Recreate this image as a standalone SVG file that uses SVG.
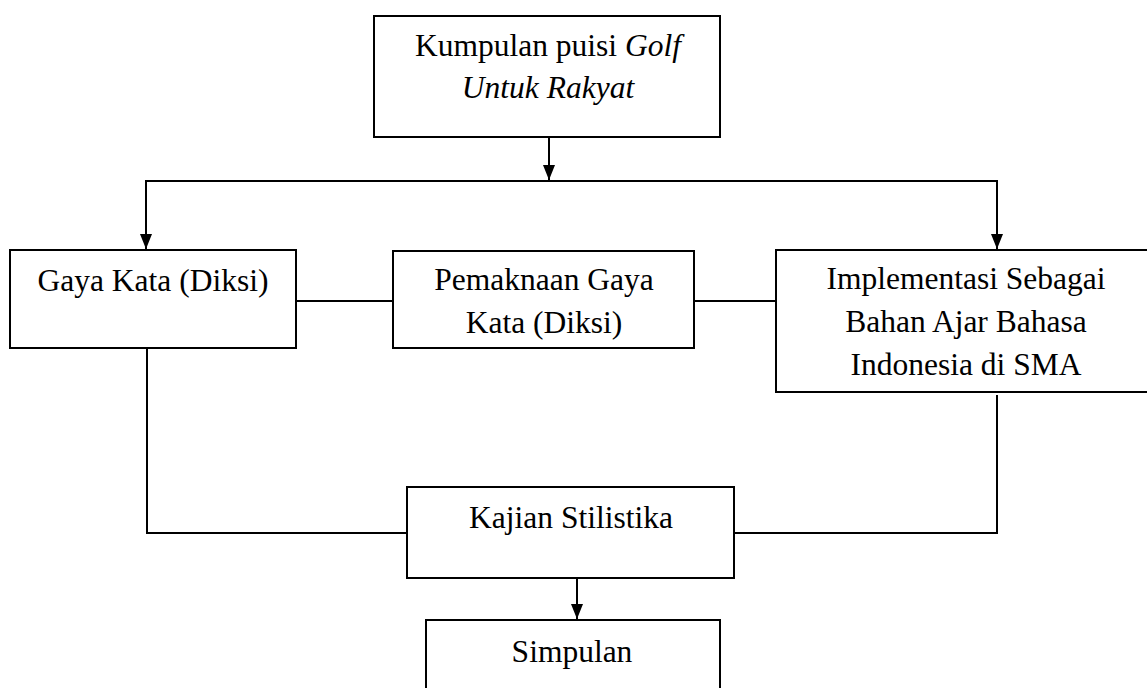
<svg xmlns="http://www.w3.org/2000/svg" width="1147" height="688" viewBox="0 0 1147 688">
<style>
.box{fill:#fff;stroke:#000;stroke-width:2}
.t{font-family:"Liberation Serif","Times New Roman",serif;font-size:31.5px;fill:#000;text-anchor:middle}
.ln{fill:none;stroke:#000;stroke-width:2}
</style>
<defs>
<marker id="ah" markerUnits="userSpaceOnUse" markerWidth="16" markerHeight="12" refX="15" refY="6" orient="auto-start-reverse" viewBox="0 0 16 12">
<path d="M0,0 L15,6 L0,12 Z" fill="#000"/>
</marker>
</defs>
<rect width="1147" height="688" fill="#fff"/>
<g id="connectors">
<line class="ln" x1="549" y1="137" x2="549" y2="180" marker-end="url(#ah)"/>
<polyline class="ln" points="146,249 146,181 997,181 997,249" marker-start="url(#ah)" marker-end="url(#ah)"/>
<line class="ln" x1="296" y1="301" x2="393" y2="301"/>
<line class="ln" x1="694" y1="301" x2="776" y2="301"/>
<polyline class="ln" points="147,348 147,533 407,533"/>
<polyline class="ln" points="997,395 997,533 734,533"/>
<line class="ln" x1="577" y1="578" x2="577" y2="619" marker-end="url(#ah)"/>
</g>
<g id="node-kumpulan">
<rect class="box" x="374" y="16" width="346" height="121"/>
<text class="t" x="548" y="56">Kumpulan puisi <tspan font-style="italic">Golf</tspan></text>
<text class="t" x="548" y="98" font-style="italic">Untuk Rakyat</text>
</g>
<g id="node-gaya">
<rect class="box" x="10" y="250" width="286" height="98"/>
<text class="t" x="153" y="291">Gaya Kata (Diksi)</text>
</g>
<g id="node-pemaknaan">
<rect class="box" x="393" y="251" width="301" height="97"/>
<text class="t" x="544" y="290">Pemaknaan Gaya</text>
<text class="t" x="544" y="333">Kata (Diksi)</text>
</g>
<g id="node-implementasi">
<rect class="box" x="776" y="250" width="390" height="142"/>
<text class="t" x="966" y="289">Implementasi Sebagai</text>
<text class="t" x="966" y="332">Bahan Ajar Bahasa</text>
<text class="t" x="966" y="375">Indonesia di SMA</text>
</g>
<g id="node-kajian">
<rect class="box" x="407" y="487" width="327" height="91"/>
<text class="t" x="571" y="528">Kajian Stilistika</text>
</g>
<g id="node-simpulan">
<rect class="box" x="426" y="620" width="294" height="80"/>
<text class="t" x="572" y="662">Simpulan</text>
</g>
</svg>
